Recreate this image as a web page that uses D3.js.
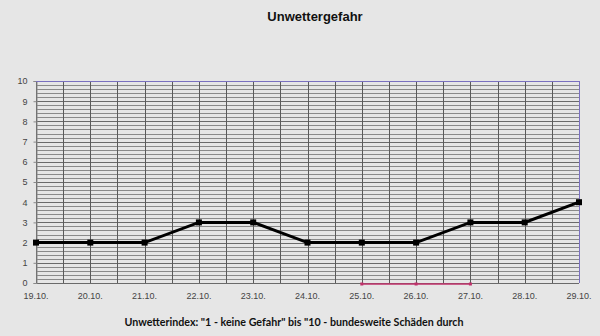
<!DOCTYPE html>
<html><head><meta charset="utf-8">
<script src="https://cdn.jsdelivr.net/npm/d3@7"></script>
<style>body{margin:0;background:#e6e6e6;}svg{display:block;}</style>
</head><body>
<script>
const dates = ["19.10.","20.10.","21.10.","22.10.","23.10.","24.10.","25.10.","26.10.","27.10.","28.10.","29.10."];
const values = [2,2,2,3,3,2,2,2,3,3,4];
const yTicks = [0,1,2,3,4,5,6,7,8,9,10];
const title = "Unwettergefahr";
const caption = "Unwetterindex: \"1 - keine Gefahr\" bis \"10 - bundesweite Schäden durch";

const W=600,H=336;
const svg=d3.select("body").append("svg").attr("width",W).attr("height",H);
svg.append("rect").attr("width",W).attr("height",H).attr("fill","#e6e6e6");
const x=d3.scaleLinear().domain([0,dates.length-1]).range([36,579]);
const y=d3.scaleLinear().domain([0,10]).range([283,81]);

const minor=d3.range(0,10.001,0.2);
svg.append("g").selectAll("line").data(minor).join("line")
  .attr("x1",x(0)).attr("x2",x(10))
  .attr("y1",d=>Math.round(y(d))+0.5).attr("y2",d=>Math.round(y(d))+0.5)
  .attr("stroke",d=>Math.abs(d-Math.round(d))<1e-6?"#6a6a6a":"#8a8a8a").attr("stroke-width",1);
const vg=d3.range(0,10.001,0.5);
svg.append("g").selectAll("line").data(vg).join("line")
  .attr("x1",d=>Math.round(x(d))+0.5).attr("x2",d=>Math.round(x(d))+0.5)
  .attr("y1",y(10)).attr("y2",y(0))
  .attr("stroke","#5a5a5a").attr("stroke-width",1);

const ya=svg.append("g").attr("transform",`translate(${Math.round(x(0))+0.5},0)`)
  .call(d3.axisLeft(y).tickValues(yTicks).tickSize(3).tickPadding(6));
ya.select(".domain").attr("stroke","#8a8a8a");
ya.selectAll(".tick line").attr("stroke","#8a8a8a");
ya.selectAll("text").attr("font-family","Arial, 'Liberation Sans', sans-serif").attr("font-size",9).attr("fill","#444");
svg.append("g").selectAll("text").data(dates).join("text")
  .attr("x",(d,i)=>x(i)).attr("y",299).attr("text-anchor","middle")
  .attr("font-family","Arial, 'Liberation Sans', sans-serif").attr("font-size",9).attr("fill","#444").text(d=>d);

svg.append("line").attr("x1",x(0)).attr("x2",x(10)).attr("y1",Math.round(y(10))+0.5).attr("y2",Math.round(y(10))+0.5).attr("stroke","#7a70c0");
svg.append("line").attr("x1",Math.round(x(10))+0.5).attr("x2",Math.round(x(10))+0.5).attr("y1",y(10)).attr("y2",y(0)).attr("stroke","#7a70c0");
const by=Math.round(y(0))+1;
svg.append("line").attr("x1",x(6)).attr("x2",x(8)).attr("y1",by).attr("y2",by).attr("stroke","#c0306a").attr("stroke-width",1.5);
svg.append("g").selectAll("rect").data([6,7,8]).join("rect")
  .attr("x",d=>x(d)-1.5).attr("y",by-1.5).attr("width",3).attr("height",3).attr("fill","#c0306a");

svg.append("path").datum(values)
  .attr("d",d3.line().x((d,i)=>x(i)).y(d=>y(d)))
  .attr("fill","none").attr("stroke","#000").attr("stroke-width",3);
svg.append("g").selectAll("rect").data(values).join("rect")
  .attr("x",(d,i)=>x(i)-3).attr("y",d=>y(d)-3).attr("width",6).attr("height",6).attr("fill","#000");

svg.append("text").attr("x",315).attr("y",21).attr("text-anchor","middle")
  .attr("font-family","Arial, 'Liberation Sans', sans-serif").attr("font-weight","bold").attr("font-size",13).attr("fill","#111").text(title);
svg.append("text").attr("x",294).attr("y",326).attr("text-anchor","middle")
  .attr("font-family","Lato, Calibri, sans-serif").attr("font-weight","bold").attr("font-size",12).attr("fill","#111")
  .attr("textLength",339).attr("lengthAdjust","spacingAndGlyphs").text(caption);
</script>
</body></html>
